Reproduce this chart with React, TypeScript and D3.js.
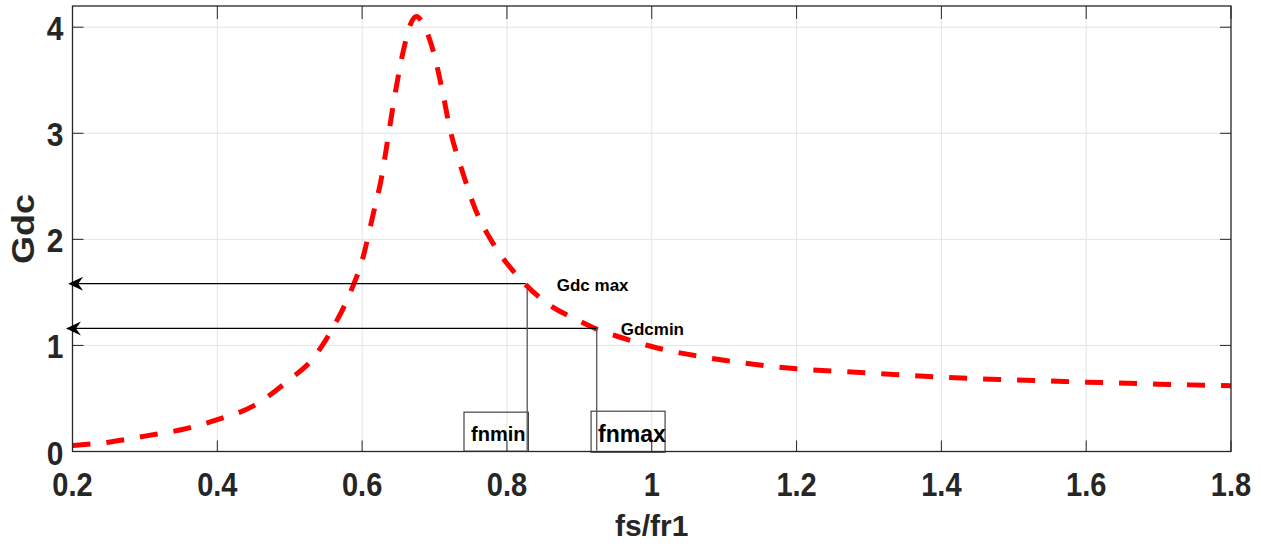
import React from 'react';
import * as d3 from 'd3';

// normalized switching frequency vs. DC gain
const fnValues = [0.2, 0.25, 0.3, 0.35, 0.4, 0.45, 0.5, 0.53, 0.56, 0.585, 0.6, 0.615, 0.627, 0.636, 0.645, 0.657, 0.667, 0.675, 0.685, 0.698, 0.712, 0.721, 0.738, 0.756, 0.781, 0.814, 0.853, 0.9, 0.925, 0.96, 1.0, 1.1, 1.2, 1.3, 1.4, 1.5, 1.6, 1.7, 1.8];
const gdcValues = [0.057, 0.088, 0.145, 0.205, 0.3, 0.43, 0.68, 0.86, 1.17, 1.52, 1.8, 2.23, 2.59, 2.97, 3.35, 3.78, 4.03, 4.1, 4.02, 3.78, 3.36, 3.05, 2.65, 2.29, 1.96, 1.66, 1.41, 1.23, 1.15, 1.07, 0.99, 0.86, 0.78, 0.74, 0.7, 0.675, 0.654, 0.635, 0.62];

const xTicks = [0.2, 0.4, 0.6, 0.8, 1, 1.2, 1.4, 1.6, 1.8];
const yTicks = [0, 1, 2, 3, 4];

// annotation anchors (fs/fr1, Gdc)
const gdcMax = { fn: 0.826, g: 1.582, label: 'Gdc max' };
const gdcMin = { fn: 0.924, g: 1.16, label: 'Gdcmin' };
const arrowTipFn = [0.194, 0.191];
const fnBoxes = [
  { label: 'fnmin', fn0: 0.7407, fn1: 0.8296, g0: 0.003, g1: 0.371, lineFn: 0.828, lineG: 1.54, size: 20 },
  { label: 'fnmax', fn0: 0.9162, fn1: 1.0184, g0: -0.007, g1: 0.38, lineFn: 0.924, lineG: 1.16, size: 23 },
];

const W = 1261;
const H = 550;
const margin = { top: 6, right: 30, bottom: 98.5, left: 72.5 };
const font = '"Liberation Sans", Arial, sans-serif';
const axisColor = '#262626';
const squeeze = 0.88; // tick labels look horizontally condensed

export default function App() {
  const innerW = W - margin.left - margin.right;
  const innerH = H - margin.top - margin.bottom;

  const x = d3.scaleLinear().domain([0.2, 1.8]).range([margin.left, margin.left + innerW]);
  const y = d3.scaleLinear().domain([0, 4.2]).range([margin.top + innerH, margin.top]);

  const pts = fnValues.map((f, i) => [f, gdcValues[i]] as [number, number]);
  const line = d3.line<[number, number]>()
    .x(d => x(d[0]))
    .y(d => y(d[1]))
    .curve(d3.curveMonotoneX);

  const x0 = x(0.2), x1 = x(1.8), y0 = y(0), y1 = y(4.2);
  const tickLen = 11;

  const arrow = (tipX: number, yy: number) => {
    const p = d3.path();
    p.moveTo(tipX, yy);
    p.lineTo(tipX + 15, yy - 7);
    p.lineTo(tipX + 10, yy);
    p.lineTo(tipX + 15, yy + 7);
    p.closePath();
    return p.toString();
  };

  return (
    <svg width={W} height={H} style={{ position: 'absolute', left: 0, top: 0, background: '#fff' }} fontFamily={font}>
      <rect x={0} y={0} width={W} height={H} fill="#fff" />
      {/* grid */}
      {xTicks.slice(1, -1).map(t => (
        <line key={'gx' + t} x1={x(t)} x2={x(t)} y1={y0} y2={y1} stroke="#e3e3e3" strokeWidth={1} />
      ))}
      {yTicks.slice(1).map(t => (
        <line key={'gy' + t} x1={x0} x2={x1} y1={y(t)} y2={y(t)} stroke="#e3e3e3" strokeWidth={1} />
      ))}

      {/* curve */}
      <path d={line(pts) || ''} fill="none" stroke="#ff0000" strokeWidth={5} strokeDasharray="18,16" />

      {/* ticks on all four sides */}
      {xTicks.map(t => (
        <g key={'tx' + t}>
          <line x1={x(t)} x2={x(t)} y1={y0} y2={y0 - tickLen} stroke={axisColor} strokeWidth={1} />
          <line x1={x(t)} x2={x(t)} y1={y1} y2={y1 + tickLen + 2} stroke={axisColor} strokeWidth={1} />
          <text transform={`translate(${x(t)},495.5) scale(${squeeze},1)`} textAnchor="middle" fontSize={33} fontWeight="bold" fill={axisColor}>{String(t)}</text>
        </g>
      ))}
      {yTicks.map(t => (
        <g key={'ty' + t}>
          <line x1={x0} x2={x0 + tickLen} y1={y(t)} y2={y(t)} stroke={axisColor} strokeWidth={1} />
          <line x1={x1} x2={x1 - tickLen} y1={y(t)} y2={y(t)} stroke={axisColor} strokeWidth={1} />
          <text transform={`translate(63.5,${y(t) + 13}) scale(${squeeze},1)`} textAnchor="end" fontSize={34} fontWeight="bold" fill={axisColor}>{String(t)}</text>
        </g>
      ))}

      {/* box */}
      <rect x={x0} y={y1} width={x1 - x0} height={y0 - y1} fill="none" stroke={axisColor} strokeWidth={1.3} />

      {/* axis labels */}
      <text x={(x0 + x1) / 2} y={536} textAnchor="middle" fontSize={30} fontWeight="bold" fill={axisColor}>fs/fr1</text>
      <text transform={`translate(33.5,229) scale(0.85,1) rotate(-90)`} textAnchor="middle" fontSize={36} fontWeight="bold" fill={axisColor}>Gdc</text>

      {/* Gdc max / Gdcmin arrows */}
      {[gdcMax, gdcMin].map((a, i) => (
        <g key={a.label}>
          <line x1={x(a.fn)} x2={x(arrowTipFn[i]) + 10} y1={y(a.g)} y2={y(a.g)} stroke="#000" strokeWidth={1.2} />
          <path d={arrow(x(arrowTipFn[i]), y(a.g))} fill="#000" />
        </g>
      ))}
      <text x={x(gdcMax.fn) + 31} y={y(gdcMax.g) + 7} fontSize={17} fontWeight="bold" fill="#000">{gdcMax.label}</text>
      <text x={x(gdcMin.fn) + 24} y={y(gdcMin.g) + 7} fontSize={17} fontWeight="bold" fill="#000">{gdcMin.label}</text>

      {/* fnmin / fnmax boxes */}
      {fnBoxes.map(b => (
        <g key={b.label}>
          <rect x={x(b.fn0)} y={y(b.g1)} width={x(b.fn1) - x(b.fn0)} height={y(b.g0) - y(b.g1)} fill="none" stroke="#333" strokeWidth={1.1} />
          <text x={x(b.fn0) + 7} y={y(b.g0) - 10} fontSize={b.size} fontWeight="bold" fill="#000">{b.label}</text>
          <line x1={x(b.lineFn)} x2={x(b.lineFn)} y1={y(b.lineG)} y2={y(0) - 1} stroke="#555" strokeWidth={1.3} />
        </g>
      ))}
    </svg>
  );
}
